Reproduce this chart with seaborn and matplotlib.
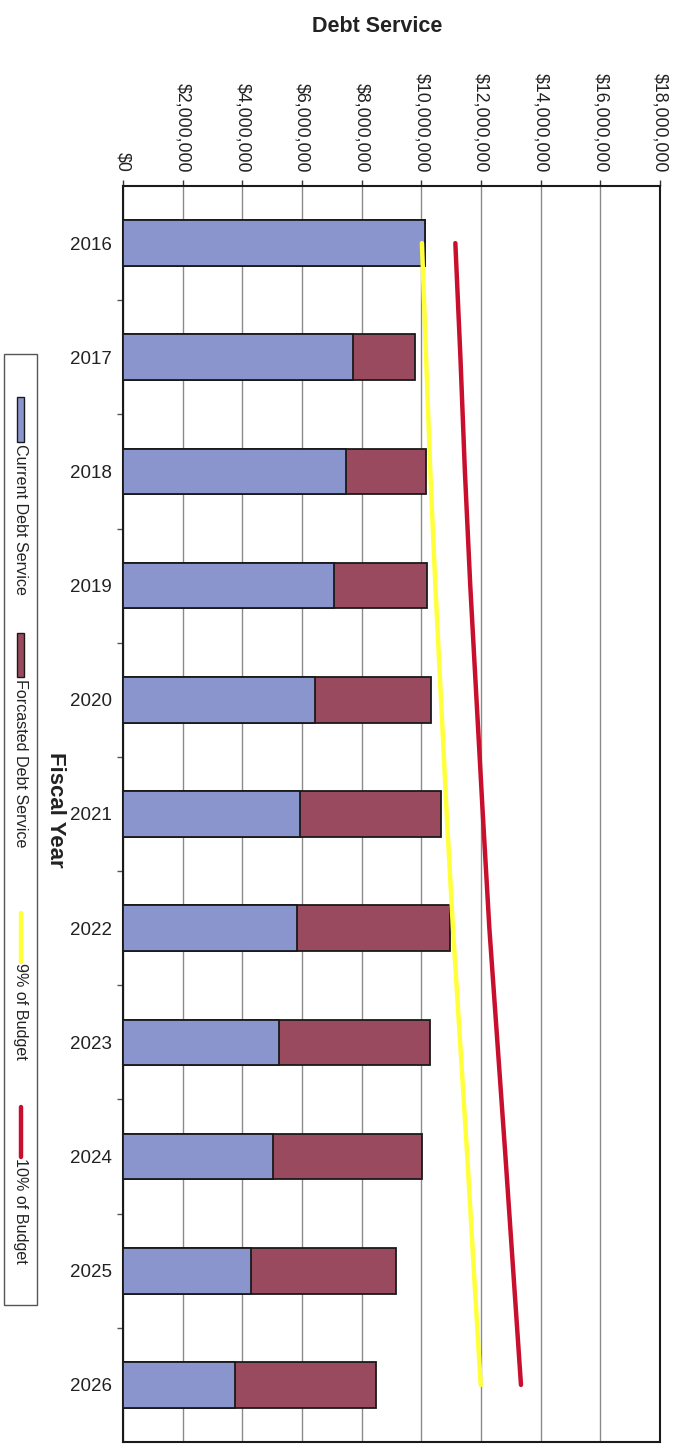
import numpy as np
import pandas as pd
import matplotlib
matplotlib.use("Agg")
import matplotlib.pyplot as plt
from matplotlib.patches import Rectangle
from matplotlib.lines import Line2D
from matplotlib.ticker import FixedLocator, FuncFormatter
import seaborn as sns

# ---- data (dollars) ----
years = ["2016", "2017", "2018", "2019", "2020", "2021",
         "2022", "2023", "2024", "2025", "2026"]
current_debt = [10_110_000, 7_720_000, 7_470_000, 7_080_000, 6_430_000, 5_940_000,
                5_840_000, 5_230_000, 5_040_000, 4_280_000, 3_740_000]
forecast_debt = [0, 2_080_000, 2_700_000, 3_100_000, 3_900_000, 4_730_000,
                 5_110_000, 5_050_000, 4_980_000, 4_860_000, 4_740_000]
budget_9pct = [10_020_000, 10_160_000, 10_300_000, 10_470_000, 10_660_000, 10_850_000,
               11_060_000, 11_300_000, 11_540_000, 11_760_000, 11_990_000]
budget_10pct = [11_140_000, 11_310_000, 11_460_000, 11_640_000, 11_850_000, 12_060_000,
                12_280_000, 12_550_000, 12_820_000, 13_080_000, 13_340_000]
value_ticks = [0, 2_000_000, 4_000_000, 6_000_000, 8_000_000, 10_000_000,
               12_000_000, 14_000_000, 16_000_000, 18_000_000]

BLUE = "#8b95cd"
MAROON = "#9a4a5e"
YELLOW = "#ffff3a"
RED = "#c8102e"

sns.set_theme(style="white")
plt.rcParams["font.family"] = ["Liberation Sans", "DejaVu Sans"]

W, H = 679, 1448
fig = plt.figure(figsize=(W / 100, H / 100), dpi=100)
fig.patch.set_facecolor("white")

def fx(px):
    return px / W

def fy(py):
    return 1 - py / H

ax_left, ax_right, ax_top, ax_bottom = 123, 660, 186, 1442
ax = fig.add_axes([fx(ax_left), fy(ax_bottom), fx(ax_right - ax_left),
                   (ax_bottom - ax_top) / H])

df = pd.DataFrame({"year": years, "current": current_debt, "forecast": forecast_debt})
df["total"] = df["current"] + df["forecast"]

# stacked horizontal bars: total (forecast colour) underneath, current on top
sns.barplot(data=df, x="total", y="year", orient="h", color=MAROON, saturation=1,
            width=0.4, edgecolor="#1a1a1a", linewidth=1.3, ax=ax, zorder=3)
sns.barplot(data=df, x="current", y="year", orient="h", color=BLUE, saturation=1,
            width=0.4, edgecolor="#1a1a1a", linewidth=1.3, ax=ax, zorder=4)

pos = np.arange(len(years))
sns.lineplot(x=budget_9pct, y=pos, orient="y", sort=False, color=YELLOW,
             linewidth=3.2, ax=ax, zorder=6, solid_capstyle="round")
sns.lineplot(x=budget_10pct, y=pos, orient="y", sort=False, color=RED,
             linewidth=3.2, ax=ax, zorder=6, solid_capstyle="round")

ax.set_xlim(0, 18_000_000)
ax.set_ylim(len(years) - 0.5, -0.5)
ax.set_xlabel("")
ax.set_ylabel("")

# value axis along the top, labels running downward
ax.xaxis.tick_top()
ax.xaxis.set_major_locator(FixedLocator(value_ticks))
ax.xaxis.set_major_formatter(FuncFormatter(lambda v, _: f"${v:,.0f}"))
ax.tick_params(axis="x", which="major", top=True, bottom=False, length=4,
               width=1, color="#333333", direction="out", pad=6,
               labelsize=12.8, labelcolor="#222222", labelrotation=270)
for lab in ax.get_xticklabels():
    lab.set_verticalalignment("bottom")
    lab.set_horizontalalignment("center")

ax.grid(axis="x", color="#8a8a8a", linewidth=1.0, zorder=0)
ax.grid(axis="y", visible=False)
ax.set_axisbelow(True)

# year labels and boundary ticks
ax.tick_params(axis="y", which="major", length=0, pad=8, labelsize=13.5,
               labelcolor="#222222")
ax.yaxis.set_minor_locator(FixedLocator(np.arange(0.5, len(years) - 0.5, 1)))
ax.tick_params(axis="y", which="minor", left=True, length=4, width=1,
               color="#555555", direction="out")

for sp in ax.spines.values():
    sp.set_visible(True)
    sp.set_color("#1a1a1a")
    sp.set_linewidth(1.5)

# titles
fig.text(fx(377), fy(27), "Debt Service", ha="center", va="center",
         fontsize=15.5, fontweight="bold", color="#222222")
fig.text(fx(55), fy(810), "Fiscal Year", ha="center", va="center",
         rotation=270, fontsize=16, fontweight="bold", color="#222222")

# legend panel, rotated with the chart
fig.patches.append(Rectangle((fx(4), fy(1305)), fx(33), (1305 - 354) / H,
                             transform=fig.transFigure, facecolor="white",
                             edgecolor="#555555", linewidth=1.0))
lx = 20.5
fig.patches.append(Rectangle((fx(lx - 4), fy(442)), fx(8), 45 / H,
                             transform=fig.transFigure, facecolor=BLUE,
                             edgecolor="#1a1a1a", linewidth=1.0))
fig.patches.append(Rectangle((fx(lx - 4), fy(677)), fx(8), 44 / H,
                             transform=fig.transFigure, facecolor=MAROON,
                             edgecolor="#1a1a1a", linewidth=1.0))
fig.lines.append(Line2D([fx(lx), fx(lx)], [fy(913), fy(962)],
                        transform=fig.transFigure, color=YELLOW, linewidth=3.2))
fig.lines.append(Line2D([fx(lx), fx(lx)], [fy(1107), fy(1157)],
                        transform=fig.transFigure, color=RED, linewidth=3.2))

legend_items = [("Current Debt Service", 444), ("Forcasted Debt Service", 679),
                ("9% of Budget", 963), ("10% of Budget", 1158)]
for label, top in legend_items:
    fig.text(fx(lx), fy(top), label, rotation=270, ha="center", va="top",
             fontsize=11.6, color="#222222")

fig.savefig("out.png", dpi=100, facecolor="white")
